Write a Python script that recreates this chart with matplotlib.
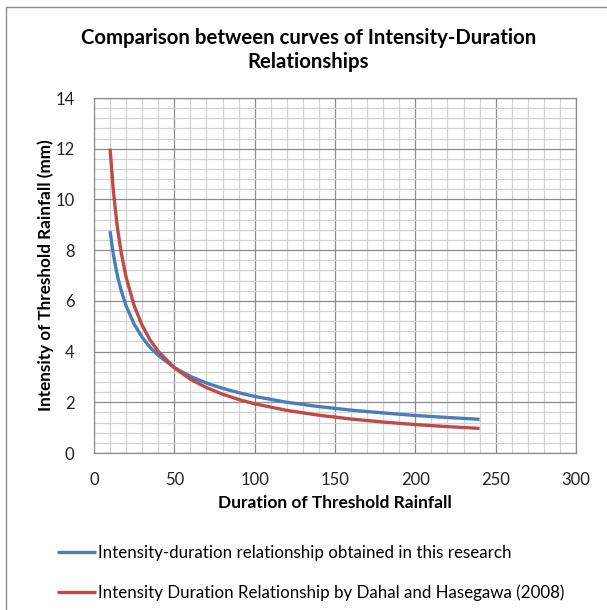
import numpy as np
import matplotlib
matplotlib.use("Agg")
import matplotlib.pyplot as plt
from matplotlib.ticker import MultipleLocator
from matplotlib.patches import Rectangle

plt.rcParams["font.family"] = ["Lato", "DejaVu Sans"]

# values
duration = [10, 12, 14, 15, 17, 20, 25, 30, 35, 40, 50, 60, 70, 80, 90, 100,
            120, 140, 160, 180, 200, 220, 240]
this_research = [8.75, 7.85, 7.17, 6.88, 6.39, 5.80, 5.08, 4.56, 4.16, 3.85,
                 3.37, 3.02, 2.76, 2.55, 2.38, 2.23, 2.00, 1.83, 1.69, 1.58,
                 1.48, 1.40, 1.33]
dahal = [12.0, 10.38, 9.19, 8.70, 7.88, 6.93, 5.81, 5.03, 4.45, 4.01, 3.36,
         2.91, 2.58, 2.32, 2.11, 1.94, 1.68, 1.49, 1.34, 1.22, 1.12, 1.04, 0.97]

label_blue = "Intensity-duration relationship obtained in this research"
label_red = "Intensity Duration Relationship by Dahal and Hasegawa (2008)"

fig = plt.figure(figsize=(6.07, 6.10), dpi=100)
ax = fig.add_axes([94 / 607, 1 - 453 / 610, (576 - 94) / 607, (453 - 98) / 610])

ax.plot(duration, this_research, color="#4A7EBB", lw=2.4, label=label_blue,
        solid_capstyle="butt")
ax.plot(duration, dahal, color="#BE4B48", lw=2.4, label=label_red,
        solid_capstyle="butt")

ax.set_xlim(0, 300)
ax.set_ylim(0, 14)
ax.xaxis.set_major_locator(MultipleLocator(50))
ax.xaxis.set_minor_locator(MultipleLocator(10))
ax.yaxis.set_major_locator(MultipleLocator(2))
ax.yaxis.set_minor_locator(MultipleLocator(0.4))
ax.grid(which="major", color="#8c8c8c", lw=0.9)
ax.grid(which="minor", color="#d2d2d2", lw=0.9)
ax.set_axisbelow(True)
for s in ax.spines.values():
    s.set_color("#8c8c8c")
    s.set_linewidth(0.9)
ax.tick_params(which="both", length=0)
ax.tick_params(axis="x", pad=14, labelsize=12, colors="#222222")
ax.tick_params(axis="y", pad=14, labelsize=12, colors="#222222")

ax.set_xlabel("Duration of Threshold Rainfall", fontsize=12.5, fontweight="bold",
              labelpad=5)
ax.set_ylabel("Intensity of Threshold Rainfall (mm)", fontsize=12.3,
              fontweight="bold", labelpad=1)
fig.text(0.508, 1 - 50 / 610, "Comparison between curves of Intensity-Duration\nRelationships",
         ha="center", va="center", fontsize=14.7, fontweight="bold", linespacing=1.3)

fig.legend(loc="upper left", bbox_to_anchor=(42 / 607, 1 - 530 / 610),
           frameon=False, fontsize=12.2, handlelength=2.3, handletextpad=0.1,
           labelspacing=1.35)

fig.patches.append(Rectangle((6 / 607, -0.05), 1.2, 1 - 7 / 610 + 0.05,
                             transform=fig.transFigure, fill=False,
                             edgecolor="#8c8c8c", lw=1.0))

fig.savefig("out.png", dpi=100)
